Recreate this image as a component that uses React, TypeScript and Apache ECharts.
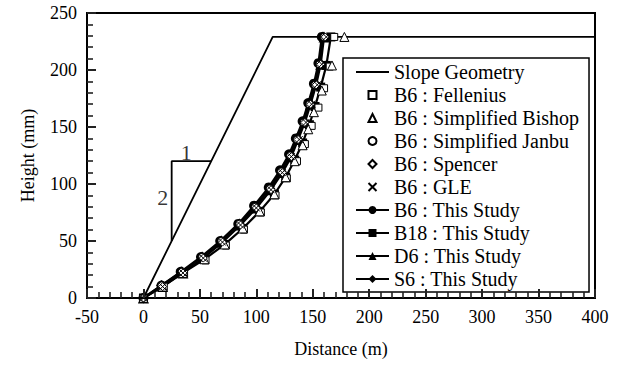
import React, { useEffect, useRef } from "react";
import * as echarts from "echarts";

const slopeX = [0, 114.5, 400];
const slopeY = [0, 229, 229];

const triX = [25, 25, 60];
const triY = [50, 120, 120];

const felleniusX = [0, 18, 36, 55, 73, 89, 104, 117, 127, 136, 143, 149, 155, 160, 165, 169];
const felleniusY = [0, 10, 21, 33, 46, 60, 75, 90, 105, 120, 135, 151, 167, 184, 203, 229];

const bishopX = [0, 17, 35, 54, 72, 88, 103, 116, 126, 134, 141, 146, 151, 158, 167, 178];
const bishopY = [0, 10, 22, 34, 47, 61, 76, 91, 106, 120, 134, 148, 163, 182, 204, 229];

const janbuX = [0, 16, 34, 52, 69, 85, 99, 112, 122, 130, 136, 142, 147, 152, 156, 160];
const janbuY = [0, 11, 23, 36, 50, 65, 80, 96, 111, 125, 139, 154, 170, 187, 205, 229];

const spencerX = [0, 17, 35, 53, 70, 86, 100, 113, 123, 131, 137, 143, 148, 153, 157, 161];
const spencerY = [0, 10, 22, 35, 49, 64, 79, 95, 110, 124, 139, 154, 170, 187, 205, 229];

const gleX = [0, 17, 35, 53, 70, 86, 100, 113, 123, 131, 138, 144, 149, 154, 158, 162];
const gleY = [0, 10, 22, 35, 49, 64, 79, 95, 110, 124, 139, 154, 170, 187, 205, 229];

const b6X = [0, 16, 33, 51, 68, 84, 98, 111, 121, 129, 135, 141, 146, 151, 155, 158];
const b6Y = [0, 11, 23, 36, 50, 65, 81, 97, 112, 126, 140, 155, 171, 188, 206, 229];

const b18X = [0, 17, 35, 54, 72, 88, 103, 116, 126, 134, 141, 147, 152, 157, 162, 166];
const b18Y = [0, 10, 22, 34, 47, 61, 76, 91, 106, 121, 136, 152, 168, 185, 204, 229];

const d6X = [0, 17, 35, 53, 70, 86, 100, 113, 123, 131, 137, 143, 148, 153, 157, 160];
const d6Y = [0, 10, 22, 35, 49, 64, 79, 95, 110, 124, 139, 154, 170, 187, 205, 229];

const s6X = [0, 16, 34, 52, 69, 85, 99, 112, 122, 130, 136, 142, 147, 152, 156, 159];
const s6Y = [0, 11, 23, 36, 50, 65, 80, 96, 111, 125, 140, 155, 171, 188, 206, 229];

const ratioLabels = ["1", "2"];
const ratioLabelX = [38, 17];
const ratioLabelY = [128, 88];

const legendNames = [
  "Slope Geometry",
  "B6 : Fellenius",
  "B6 : Simplified Bishop",
  "B6 : Simplified Janbu",
  "B6 : Spencer",
  "B6 : GLE",
  "B6 : This Study",
  "B18 : This Study",
  "D6 : This Study",
  "S6 : This Study",
];

const FONT = "Liberation Serif";

function pairs(xs: number[], ys: number[]) {
  return xs.map((x, i) => [x, ys[i]]);
}

export default function App() {
  const ref = useRef<HTMLDivElement>(null);
  useEffect(() => {
    if (!ref.current) return;
    const chart = echarts.init(ref.current, undefined, { renderer: "svg" });

    const openSeries = (name: string, xs: number[], ys: number[], symbol: string, size: number) => ({
      name,
      type: "line",
      data: pairs(xs, ys),
      symbol,
      symbolSize: size,
      showAllSymbol: true,
      lineStyle: { width: 0, opacity: 0 },
      itemStyle: { color: "#fff", borderColor: "#000", borderWidth: 1 },
      z: 4,
    });
    const filledSeries = (name: string, xs: number[], ys: number[], symbol: string, size: number) => ({
      name,
      type: "line",
      data: pairs(xs, ys),
      symbol,
      symbolSize: size,
      showAllSymbol: true,
      lineStyle: { width: 2.2, color: "#000" },
      itemStyle: { color: "#000", borderColor: "#000", borderWidth: 0 },
      z: 3,
    });

    const makeMain = (min: number, max: number, name: string, gap: number) => ({
      type: "value",
      min,
      max,
      interval: 50,
      z: 10,
      axisLine: { show: true, onZero: false, lineStyle: { color: "#000", width: 2 } },
      splitLine: { show: false },
      axisTick: { show: true, inside: true, length: 9, lineStyle: { color: "#222", width: 2 } },
      minorTick: { show: true, splitNumber: 5, length: 6, lineStyle: { color: "#222", width: 1.6 } },
      axisLabel: { show: true, fontFamily: FONT, fontSize: 18, color: "#000", margin: 10 },
      name,
      nameLocation: "middle",
      nameGap: gap,
      nameTextStyle: { fontFamily: FONT, fontSize: 18, color: "#000" },
    });

    chart.setOption({
      animation: false,
      backgroundColor: "#fff",
      textStyle: { fontFamily: FONT, color: "#000" },
      grid: {
        left: 87,
        right: 28,
        top: 13,
        bottom: 71,
        show: true,
        borderColor: "#000",
        borderWidth: 2,
        backgroundColor: "transparent",
      },
      legend: {
        data: legendNames,
        orient: "vertical",
        left: 343,
        top: 58,
        padding: [4, 10, 3, 12],
        itemGap: 3,
        itemWidth: 33,
        itemHeight: 10,
        borderColor: "#000",
        borderWidth: 1.5,
        backgroundColor: "#fff",
        textStyle: { fontFamily: FONT, fontSize: 20, color: "#000", lineHeight: 20 },
        selectedMode: false,
      },
      xAxis: makeMain(-50, 400, "Distance (m)", 42),
      yAxis: makeMain(0, 250, "Height (mm)", 50),
      series: [
        {
          name: "Slope Geometry",
          type: "line",
          data: pairs(slopeX, slopeY),
          symbol: "none",
          lineStyle: { width: 1.8, color: "#000" },
          itemStyle: { color: "rgba(0,0,0,0)", opacity: 0 },
          z: 2,
        },
        {
          name: "ratio",
          type: "line",
          data: pairs(triX, triY),
          symbol: "none",
          lineStyle: { width: 1.8, color: "#000" },
          z: 2,
        },
        {
          name: "ratioText",
          type: "scatter",
          symbolSize: 0,
          data: ratioLabels.map((t, i) => ({ name: t, value: [ratioLabelX[i], ratioLabelY[i]] })),
          label: {
            show: true,
            position: "inside",
            formatter: "{b}",
            fontFamily: FONT,
            fontSize: 22,
            color: "#000",
          },
          z: 2,
        },
        filledSeries("B6 : This Study", b6X, b6Y, "circle", 10),
        filledSeries("B18 : This Study", b18X, b18Y, "rect", 9),
        filledSeries("D6 : This Study", d6X, d6Y, "triangle", 11),
        filledSeries("S6 : This Study", s6X, s6Y, "diamond", 11),
        openSeries("B6 : Fellenius", felleniusX, felleniusY, "rect", 7),
        openSeries("B6 : Simplified Bishop", bishopX, bishopY, "triangle", 9),
        openSeries("B6 : Simplified Janbu", janbuX, janbuY, "circle", 7),
        openSeries("B6 : Spencer", spencerX, spencerY, "diamond", 8),
        {
          ...openSeries("B6 : GLE", gleX, gleY, "path://M0,0L10,10M10,0L0,10", 7),
          itemStyle: { color: "none", borderColor: "#000", borderWidth: 1 },
        },
      ],
    });
    return () => chart.dispose();
  }, []);
  return <div ref={ref} style={{ width: 623, height: 369, position: "absolute", left: 0, top: 0 }} />;
}
